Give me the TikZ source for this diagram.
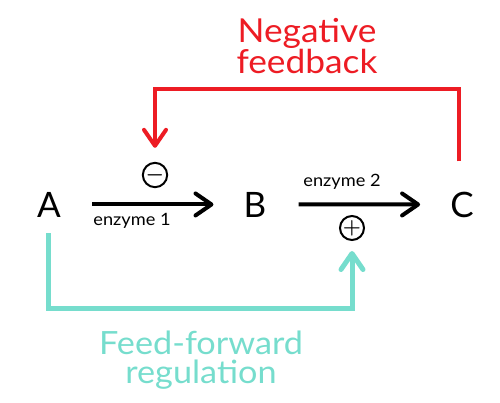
\documentclass[tikz,border=0pt]{standalone}
\usepackage{fontspec}
\setmainfont{Lato}
\newfontfamily\widefont{Lato}[FakeStretch=1.07]
\newcommand\tightlines{\lineskiplimit=-20pt\relax\lineskip=0pt\relax}
\usetikzlibrary{arrows.meta}
\definecolor{fbred}{RGB}{237,28,36}
\definecolor{ffteal}{RGB}{118,221,205}
\begin{document}
\begin{tikzpicture}[x=1pt,y=-1pt,
  letter/.style={font=\fontsize{35}{35}\selectfont, inner sep=0pt, anchor=base},
  enz/.style={font=\widefont\fontsize{17}{17}\selectfont, inner sep=0pt},
  sign/.style={circle, draw, line width=2pt, minimum size=24pt, inner sep=0pt, font=\fontsize{22}{22}\selectfont\boldmath},
  rxn/.style={line width=4pt, -{Straight Barb[length=16pt,width=22pt,round]}},
  fbline/.style={draw=fbred, line width=4pt, -{Straight Barb[length=16pt,width=22pt,round]}},
  ffline/.style={draw=ffteal, line width=5pt, -{Straight Barb[length=16pt,width=22pt,round]}},
  lab/.style={align=center, inner sep=0pt, font=\widefont\fontsize{33}{31}\selectfont\tightlines}
]
\useasboundingbox (0,0) rectangle (500,402);
\node[letter] (A) at (49,217) {A};
\node[letter] (B) at (255,217) {B};
\node[letter] (C) at (462,217) {C};
\node[enz] (e1) at (132,221) {enzyme 1};
\node[enz] (e2) at (342,182) {enzyme 2};
\node[sign] (minus) at (155,175) {$-$};
\node[sign] (plus) at (352,228) {$+$};
\draw[rxn, shorten <=31pt, shorten >=30pt] (A) -- (B);
\draw[rxn, shorten <=32pt, shorten >=30pt] (B) -- (C);
\coordinate (r1) at (459,89);
\coordinate (t1) at (48,308);
\draw[fbline, shorten <=30pt, shorten >=14pt] (C.north -| r1) -- (r1) -| (minus.north);
\draw[ffline, shorten <=16pt, shorten >=10pt] (A.south -| t1) -- (t1) -| (plus.south);
\node[lab, text=fbred] (nf) at (307,46) {Negative\\feedback};
\node[lab, text=ffteal, font=\widefont\fontsize{32}{29}\selectfont\tightlines] (ff) at (201,360) {Feed-forward\\regulation};
\end{tikzpicture}
\end{document}
